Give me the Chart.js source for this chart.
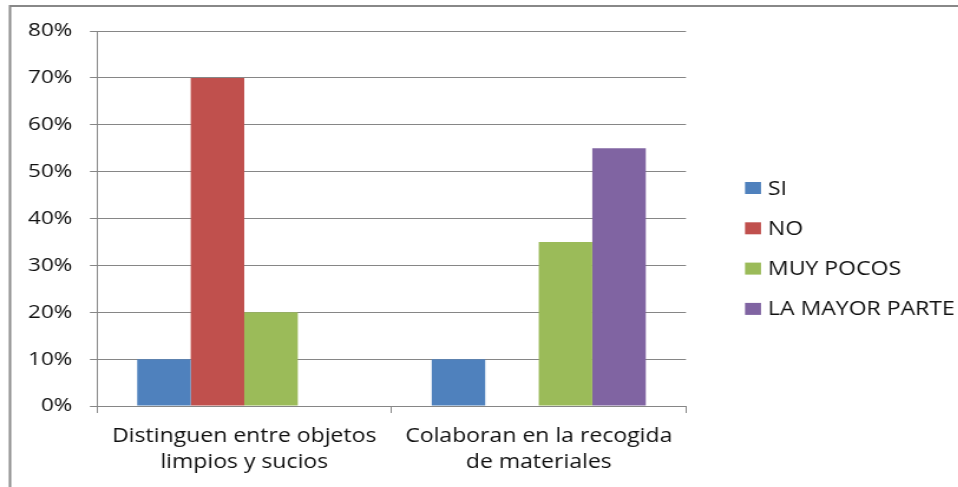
<!DOCTYPE html>
<html>
<head>
<meta charset="utf-8">
<script src="https://cdn.jsdelivr.net/npm/chart.js@4.4.1/dist/chart.umd.min.js"></script>
<style>
  html, body { margin: 0; padding: 0; background: #fff; overflow: hidden; }
  #outer { width: 958px; height: 487px; overflow: hidden; }
  #wrap { width: 812px; height: 487px; transform: scaleX(1.18); transform-origin: 0 0; }
  canvas { display: block; }
</style>
</head>
<body>
<div id="outer"><div id="wrap"><canvas id="c" width="812" height="487"></canvas></div></div>
<script>
const categories = [["Distinguen entre objetos", "limpios y sucios"], ["Colaboran en la recogida", "de materiales"]];
const seriesNames = ["SI", "NO", "MUY POCOS", "LA MAYOR PARTE"];
const siValues = [10, 10];
const noValues = [70, 0];
const muyPocosValues = [20, 35];
const mayorParteValues = [0, 55];
const yTicks = [0, 10, 20, 30, 40, 50, 60, 70, 80];
const seriesColors = ["#4F81BD", "#C0504D", "#9BBB59", "#8064A2"];

const FONT = "'Open Sans', 'Liberation Sans', sans-serif";
const GRID = "#868686";
const SX = 1.18;

const frame = {
  id: 'frame',
  beforeDraw(chart) {
    const ctx = chart.ctx;
    ctx.save();
    ctx.fillStyle = '#fff';
    ctx.fillRect(0, 0, chart.width, chart.height);
    ctx.strokeStyle = '#888888';
    ctx.lineWidth = 2;
    ctx.strokeRect(10 / SX, 6, 2000, 2000);
    ctx.restore();
  }
};

const sideLegend = {
  id: 'sideLegend',
  afterDraw(chart) {
    const ctx = chart.ctx;
    ctx.save();
    ctx.font = "19.5px " + FONT;
    ctx.textBaseline = 'alphabetic';
    ctx.textAlign = 'left';
    chart.data.datasets.forEach((ds, i) => {
      const cy = 188 + i * 40.3;
      ctx.fillStyle = ds.backgroundColor;
      ctx.fillRect(745 / SX, cy - 6, 16 / SX, 12);
      ctx.fillStyle = '#111';
      ctx.fillText(ds.label, 768 / SX, cy + 6.5);
    });
    ctx.restore();
  }
};

const valueSets = [siValues, noValues, muyPocosValues, mayorParteValues];

new Chart(document.getElementById('c'), {
  type: 'bar',
  data: {
    labels: categories,
    datasets: seriesNames.map((n, i) => ({
      label: n,
      data: valueSets[i],
      backgroundColor: seriesColors[i],
      borderWidth: 0,
      categoryPercentage: 0.727,
      barPercentage: 1.0
    }))
  },
  options: {
    responsive: false,
    animation: false,
    devicePixelRatio: 1,
    layout: { padding: { left: 0, right: 812 - 686 / SX, top: 31, bottom: 0 } },
    plugins: { legend: { display: false }, tooltip: { enabled: false } },
    scales: {
      x: {
        afterFit(s) { s.height = 81; },
        grid: { display: true, drawOnChartArea: false, drawTicks: true, tickLength: 7, color: GRID, offset: true },
        border: { display: true, color: GRID, width: 1 },
        ticks: { color: '#111', padding: 10, font: { family: FONT, size: 19.5, lineHeight: 1.333 }, maxRotation: 0, autoSkip: false }
      },
      y: {
        min: 0, max: 80,
        afterFit(s) { s.width = 97 / SX; },
        afterBuildTicks(s) { s.ticks = yTicks.map(v => ({ value: v })); },
        grid: { color: GRID, tickLength: 6, drawTicks: true },
        border: { display: true, color: GRID, width: 1 },
        ticks: { color: '#111', padding: 15, font: { family: FONT, size: 19 }, callback: v => v + '%' }
      }
    }
  },
  plugins: [frame, sideLegend]
});
</script>
</body>
</html>
